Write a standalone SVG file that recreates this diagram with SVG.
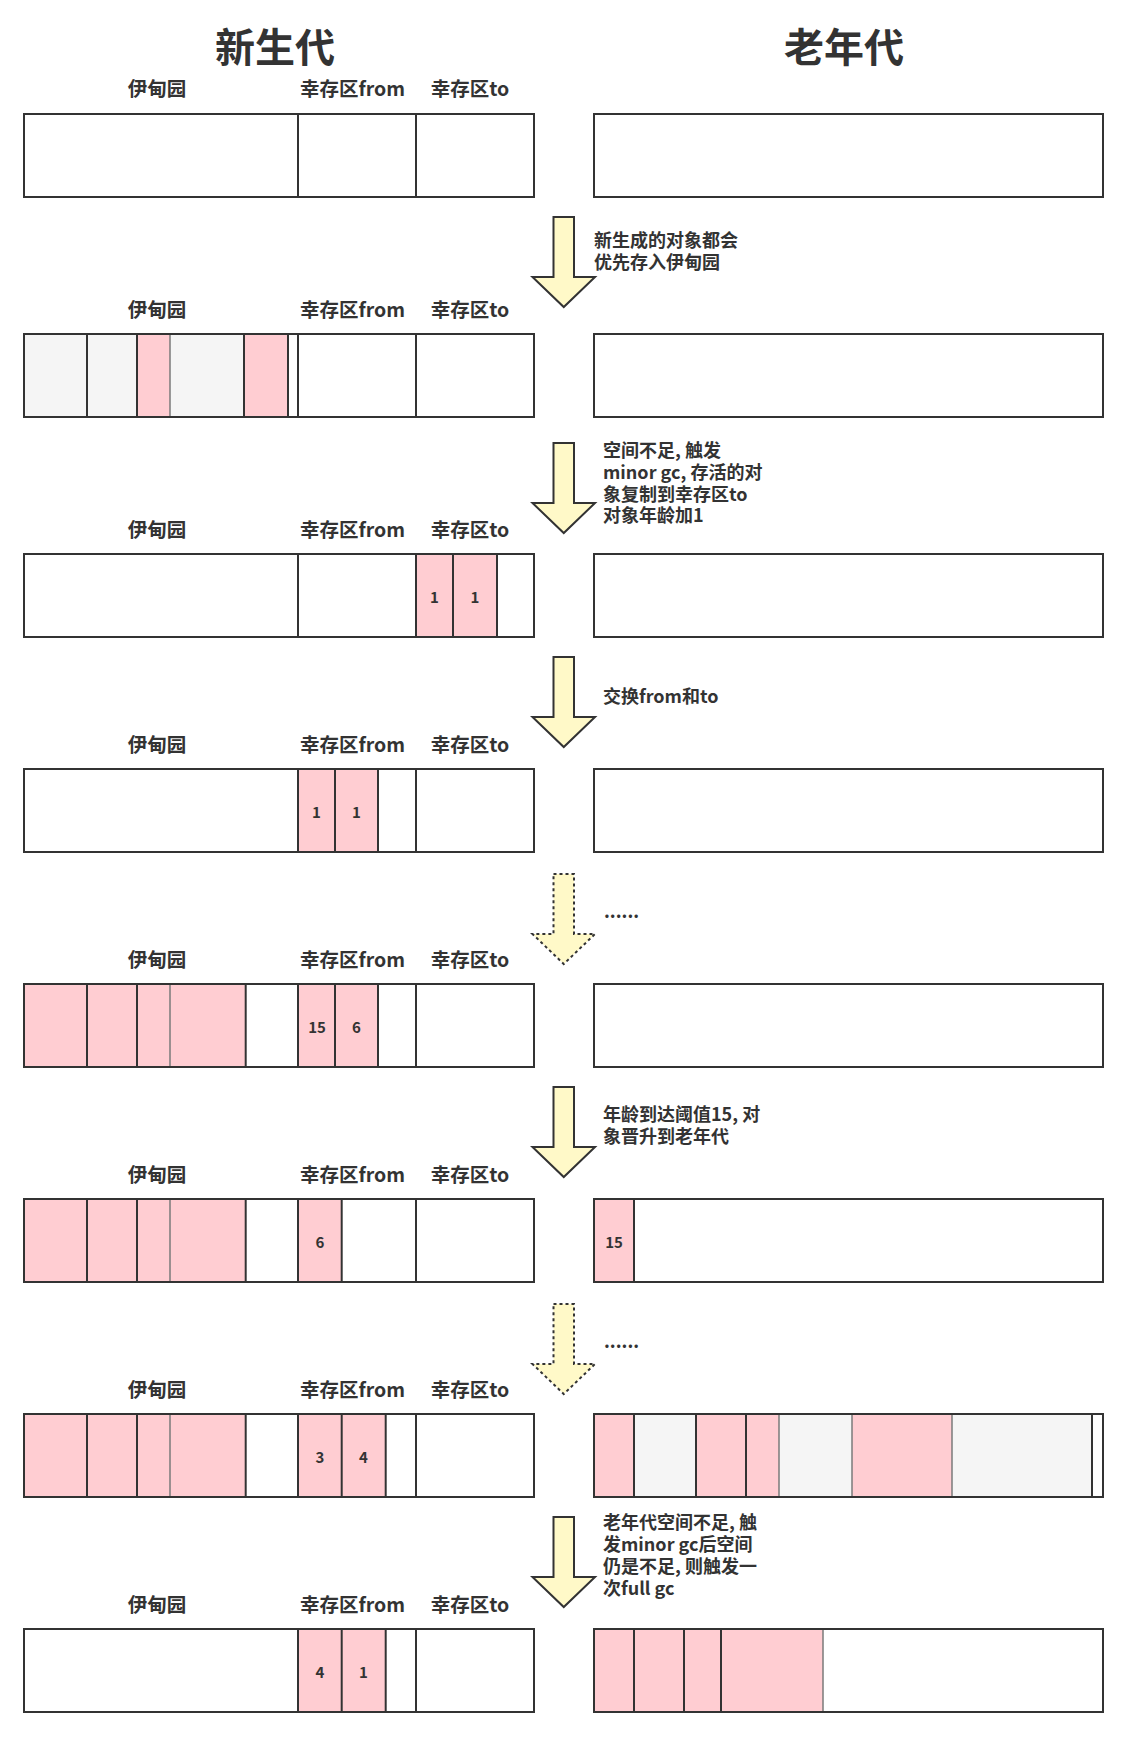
<svg xmlns="http://www.w3.org/2000/svg" width="1128" height="1737" viewBox="0 0 1128 1737">
<style>
.bg{fill:#ffffff}
.box{fill:none;stroke:#333333;stroke-width:2}
.dv{stroke:#333333;stroke-width:2}
.gl{stroke:#7a7a7a;stroke-width:1.5}
.pk{fill:#FFCDD2}
.gy{fill:#F5F5F5}
.title{font-family:"Noto Sans CJK SC","Noto Sans",sans-serif;font-weight:bold;font-size:40px;fill:#333333;text-anchor:middle;dominant-baseline:central}
.lbl{font-family:"Noto Sans CJK SC","Noto Sans",sans-serif;font-weight:bold;font-size:19.5px;fill:#333333;text-anchor:middle;dominant-baseline:central}
.num{font-family:"Noto Sans CJK SC","Noto Sans",sans-serif;font-weight:bold;font-size:15px;fill:#333333;text-anchor:middle;dominant-baseline:central}
.note{font-family:"Noto Sans CJK SC","Noto Sans",sans-serif;font-weight:bold;font-size:18px;fill:#333333;dominant-baseline:central}
.dots{font-family:"Noto Sans CJK SC","Noto Sans",sans-serif;font-weight:bold;font-size:18px;fill:#333333}
.arr{fill:#FFF9C8;stroke:#333333;stroke-width:2;stroke-linejoin:miter}
.arrd{fill:#FFF9C8;stroke:#333333;stroke-width:2;stroke-dasharray:3 3}
</style>
<defs>
<polygon id="arrow" points="553.5,0 574,0 574,60 595,60 563.75,90 532.5,60 553.5,60"/>
</defs>
<rect class="bg" x="0" y="0" width="1128" height="1737"/>

<g id="titles">
<text class="title" x="275" y="45">新生代</text>
<text class="title" x="844" y="45">老年代</text>
</g>

<!-- Row 1 -->
<g id="row1">
<g id="row1-labels">
<text class="lbl" x="157" y="87">伊甸园</text>
<text class="lbl" x="352.5" y="87">幸存区from</text>
<text class="lbl" x="470" y="87">幸存区to</text>
</g>
<g id="row1-young">
<rect class="box" x="24" y="114" width="510" height="83"/>
<line class="dv" x1="298" y1="114" x2="298" y2="197"/>
<line class="dv" x1="416" y1="114" x2="416" y2="197"/>
</g>
<g id="row1-old">
<rect class="box" x="594" y="114" width="509" height="83"/>
</g>
</g>

<!-- Row 2 -->
<g id="row2">
<g id="row2-labels">
<text class="lbl" x="157" y="308">伊甸园</text>
<text class="lbl" x="352.5" y="308">幸存区from</text>
<text class="lbl" x="470" y="308">幸存区to</text>
</g>
<g id="row2-young">
<rect class="gy" x="24" y="334" width="63" height="83"/>
<rect class="gy" x="87" y="334" width="50" height="83"/>
<rect class="pk" x="137" y="334" width="33" height="83"/>
<rect class="gy" x="170" y="334" width="74" height="83"/>
<rect class="pk" x="244" y="334" width="44" height="83"/>
<line class="dv" x1="87" y1="334" x2="87" y2="417"/>
<line class="dv" x1="137" y1="334" x2="137" y2="417"/>
<line class="gl" x1="170" y1="334" x2="170" y2="417"/>
<line class="dv" x1="244" y1="334" x2="244" y2="417"/>
<line class="dv" x1="288" y1="334" x2="288" y2="417"/>
<rect class="box" x="24" y="334" width="510" height="83"/>
<line class="dv" x1="298" y1="334" x2="298" y2="417"/>
<line class="dv" x1="416" y1="334" x2="416" y2="417"/>
</g>
<g id="row2-old">
<rect class="box" x="594" y="334" width="509" height="83"/>
</g>
</g>

<!-- Row 3 -->
<g id="row3">
<g id="row3-labels">
<text class="lbl" x="157" y="528">伊甸园</text>
<text class="lbl" x="352.5" y="528">幸存区from</text>
<text class="lbl" x="470" y="528">幸存区to</text>
</g>
<g id="row3-young">
<rect class="pk" x="416" y="554" width="37" height="83"/>
<rect class="pk" x="453" y="554" width="44" height="83"/>
<line class="dv" x1="453" y1="554" x2="453" y2="637"/>
<line class="dv" x1="497" y1="554" x2="497" y2="637"/>
<rect class="box" x="24" y="554" width="510" height="83"/>
<line class="dv" x1="298" y1="554" x2="298" y2="637"/>
<line class="dv" x1="416" y1="554" x2="416" y2="637"/>
<text class="num" x="434.5" y="596">1</text>
<text class="num" x="475" y="596">1</text>
</g>
<g id="row3-old">
<rect class="box" x="594" y="554" width="509" height="83"/>
</g>
</g>

<!-- Row 4 -->
<g id="row4">
<g id="row4-labels">
<text class="lbl" x="157" y="743">伊甸园</text>
<text class="lbl" x="352.5" y="743">幸存区from</text>
<text class="lbl" x="470" y="743">幸存区to</text>
</g>
<g id="row4-young">
<rect class="pk" x="298" y="769" width="37" height="83"/>
<rect class="pk" x="335" y="769" width="43" height="83"/>
<line class="dv" x1="335" y1="769" x2="335" y2="852"/>
<line class="dv" x1="378" y1="769" x2="378" y2="852"/>
<rect class="box" x="24" y="769" width="510" height="83"/>
<line class="dv" x1="298" y1="769" x2="298" y2="852"/>
<line class="dv" x1="416" y1="769" x2="416" y2="852"/>
<text class="num" x="316.5" y="811">1</text>
<text class="num" x="356.5" y="811">1</text>
</g>
<g id="row4-old">
<rect class="box" x="594" y="769" width="509" height="83"/>
</g>
</g>

<!-- Row 5 -->
<g id="row5">
<g id="row5-labels">
<text class="lbl" x="157" y="958">伊甸园</text>
<text class="lbl" x="352.5" y="958">幸存区from</text>
<text class="lbl" x="470" y="958">幸存区to</text>
</g>
<g id="row5-young">
<rect class="pk" x="24" y="984" width="221.7" height="83"/>
<rect class="pk" x="298" y="984" width="80" height="83"/>
<line class="dv" x1="87" y1="984" x2="87" y2="1067"/>
<line class="dv" x1="137" y1="984" x2="137" y2="1067"/>
<line class="gl" x1="170" y1="984" x2="170" y2="1067"/>
<line class="dv" x1="245.7" y1="984" x2="245.7" y2="1067"/>
<line class="dv" x1="335" y1="984" x2="335" y2="1067"/>
<line class="dv" x1="378" y1="984" x2="378" y2="1067"/>
<rect class="box" x="24" y="984" width="510" height="83"/>
<line class="dv" x1="298" y1="984" x2="298" y2="1067"/>
<line class="dv" x1="416" y1="984" x2="416" y2="1067"/>
<text class="num" x="317" y="1026">15</text>
<text class="num" x="356.5" y="1026">6</text>
</g>
<g id="row5-old">
<rect class="box" x="594" y="984" width="509" height="83"/>
</g>
</g>

<!-- Row 6 -->
<g id="row6">
<g id="row6-labels">
<text class="lbl" x="157" y="1173">伊甸园</text>
<text class="lbl" x="352.5" y="1173">幸存区from</text>
<text class="lbl" x="470" y="1173">幸存区to</text>
</g>
<g id="row6-young">
<rect class="pk" x="24" y="1199" width="221.7" height="83"/>
<rect class="pk" x="298" y="1199" width="43.7" height="83"/>
<line class="dv" x1="87" y1="1199" x2="87" y2="1282"/>
<line class="dv" x1="137" y1="1199" x2="137" y2="1282"/>
<line class="gl" x1="170" y1="1199" x2="170" y2="1282"/>
<line class="dv" x1="245.7" y1="1199" x2="245.7" y2="1282"/>
<line class="dv" x1="341.7" y1="1199" x2="341.7" y2="1282"/>
<rect class="box" x="24" y="1199" width="510" height="83"/>
<line class="dv" x1="298" y1="1199" x2="298" y2="1282"/>
<line class="dv" x1="416" y1="1199" x2="416" y2="1282"/>
<text class="num" x="320" y="1241">6</text>
</g>
<g id="row6-old">
<rect class="pk" x="594" y="1199" width="40" height="83"/>
<line class="dv" x1="634" y1="1199" x2="634" y2="1282"/>
<rect class="box" x="594" y="1199" width="509" height="83"/>
<text class="num" x="614" y="1241">15</text>
</g>
</g>

<!-- Row 7 -->
<g id="row7">
<g id="row7-labels">
<text class="lbl" x="157" y="1388">伊甸园</text>
<text class="lbl" x="352.5" y="1388">幸存区from</text>
<text class="lbl" x="470" y="1388">幸存区to</text>
</g>
<g id="row7-young">
<rect class="pk" x="24" y="1414" width="221.7" height="83"/>
<rect class="pk" x="298" y="1414" width="87.7" height="83"/>
<line class="dv" x1="87" y1="1414" x2="87" y2="1497"/>
<line class="dv" x1="137" y1="1414" x2="137" y2="1497"/>
<line class="gl" x1="170" y1="1414" x2="170" y2="1497"/>
<line class="dv" x1="245.7" y1="1414" x2="245.7" y2="1497"/>
<line class="dv" x1="341.7" y1="1414" x2="341.7" y2="1497"/>
<line class="dv" x1="385.7" y1="1414" x2="385.7" y2="1497"/>
<rect class="box" x="24" y="1414" width="510" height="83"/>
<line class="dv" x1="298" y1="1414" x2="298" y2="1497"/>
<line class="dv" x1="416" y1="1414" x2="416" y2="1497"/>
<text class="num" x="320" y="1456">3</text>
<text class="num" x="363.5" y="1456">4</text>
</g>
<g id="row7-old">
<rect class="pk" x="594" y="1414" width="40" height="83"/>
<rect class="gy" x="634" y="1414" width="62" height="83"/>
<rect class="pk" x="696" y="1414" width="83" height="83"/>
<rect class="gy" x="779" y="1414" width="73" height="83"/>
<rect class="pk" x="852" y="1414" width="100" height="83"/>
<rect class="gy" x="952" y="1414" width="140" height="83"/>
<line class="dv" x1="634" y1="1414" x2="634" y2="1497"/>
<line class="dv" x1="696" y1="1414" x2="696" y2="1497"/>
<line class="dv" x1="746" y1="1414" x2="746" y2="1497"/>
<line class="gl" x1="779" y1="1414" x2="779" y2="1497"/>
<line class="gl" x1="852" y1="1414" x2="852" y2="1497"/>
<line class="gl" x1="952" y1="1414" x2="952" y2="1497"/>
<line class="dv" x1="1092" y1="1414" x2="1092" y2="1497"/>
<rect class="box" x="594" y="1414" width="509" height="83"/>
</g>
</g>

<!-- Row 8 -->
<g id="row8">
<g id="row8-labels">
<text class="lbl" x="157" y="1603">伊甸园</text>
<text class="lbl" x="352.5" y="1603">幸存区from</text>
<text class="lbl" x="470" y="1603">幸存区to</text>
</g>
<g id="row8-young">
<rect class="pk" x="298" y="1629" width="87.7" height="83"/>
<line class="dv" x1="341.7" y1="1629" x2="341.7" y2="1712"/>
<line class="dv" x1="385.7" y1="1629" x2="385.7" y2="1712"/>
<rect class="box" x="24" y="1629" width="510" height="83"/>
<line class="dv" x1="298" y1="1629" x2="298" y2="1712"/>
<line class="dv" x1="416" y1="1629" x2="416" y2="1712"/>
<text class="num" x="320" y="1671">4</text>
<text class="num" x="363.5" y="1671">1</text>
</g>
<g id="row8-old">
<rect class="pk" x="594" y="1629" width="229" height="83"/>
<line class="dv" x1="634" y1="1629" x2="634" y2="1712"/>
<line class="dv" x1="684" y1="1629" x2="684" y2="1712"/>
<line class="dv" x1="721" y1="1629" x2="721" y2="1712"/>
<line class="gl" x1="823" y1="1629" x2="823" y2="1712"/>
<rect class="box" x="594" y="1629" width="509" height="83"/>
</g>
</g>

<!-- Connectors -->
<g id="connectors">
<use href="#arrow" class="arr" y="217"/>
<use href="#arrow" class="arr" y="443"/>
<use href="#arrow" class="arr" y="657"/>
<use href="#arrow" class="arrd" y="874"/>
<use href="#arrow" class="arr" y="1087"/>
<use href="#arrow" class="arrd" y="1304"/>
<use href="#arrow" class="arr" y="1517"/>
</g>

<g id="notes">
<text class="note" x="594" y="239"><tspan x="594" y="239">新生成的对象都会</tspan><tspan x="594" y="261">优先存入伊甸园</tspan></text>
<text class="note" x="603" y="449"><tspan x="603" y="449">空间不足, 触发</tspan><tspan x="603" y="471">minor gc, 存活的对</tspan><tspan x="603" y="493">象复制到幸存区to</tspan><tspan x="603" y="514">对象年龄加1</tspan></text>
<text class="note" x="603" y="695">交换from和to</text>
<text class="dots" x="604" y="918">......</text>
<text class="note" x="603" y="1113"><tspan x="603" y="1113">年龄到达阈值15, 对</tspan><tspan x="603" y="1135">象晋升到老年代</tspan></text>
<text class="dots" x="604" y="1348">......</text>
<text class="note" x="603" y="1521"><tspan x="603" y="1521">老年代空间不足, 触</tspan><tspan x="603" y="1543">发minor gc后空间</tspan><tspan x="603" y="1565">仍是不足, 则触发一</tspan><tspan x="603" y="1587">次full gc</tspan></text>
</g>
</svg>
